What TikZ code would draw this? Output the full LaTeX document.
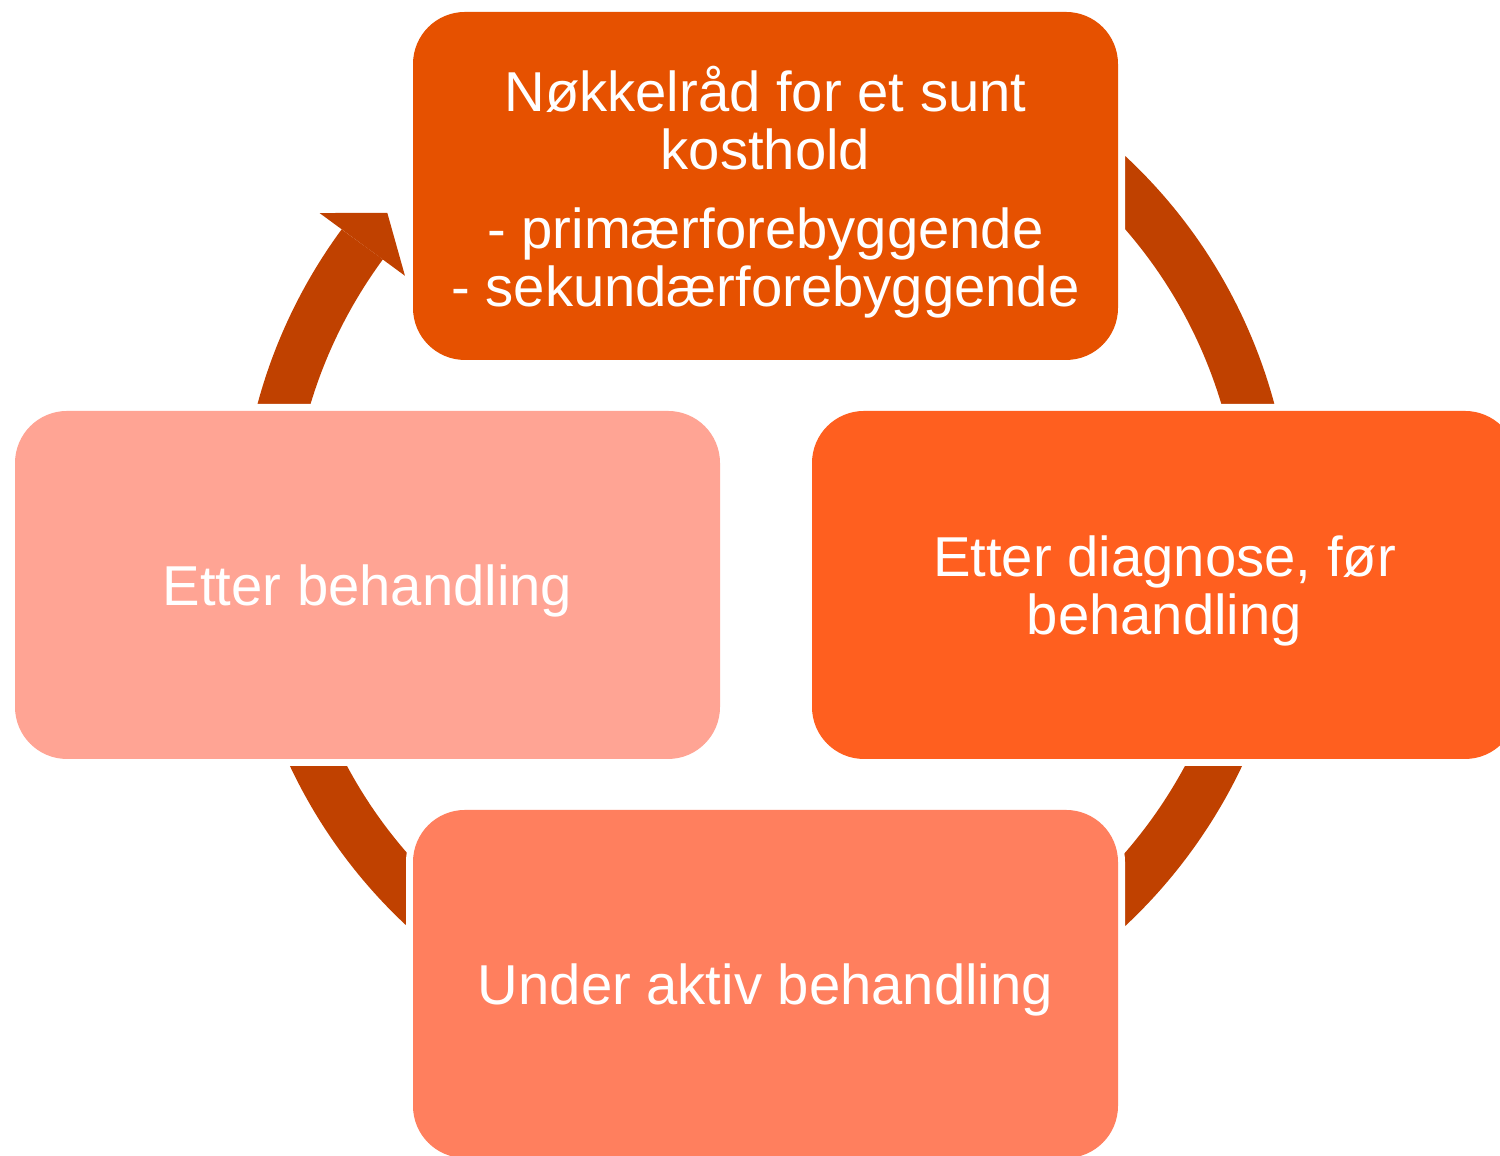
\documentclass[tikz,border=0pt]{standalone}
\usepackage{fontspec}
\setmainfont{Liberation Sans}
\usetikzlibrary{calc}
\definecolor{ringbrown}{RGB}{192,65,0}
\definecolor{deeporange}{RGB}{230,81,0}
\definecolor{brightorange}{RGB}{255,95,31}
\definecolor{salmon}{RGB}{255,127,94}
\definecolor{palesalmon}{RGB}{255,164,148}

\begin{document}
\begin{tikzpicture}[
    phase/.style={rounded corners=0.52cm, minimum width=7.05cm, minimum height=3.48cm,
        text=white, align=center, text depth=0pt, font=\fontsize{16pt}{16.5pt}\selectfont,
        preaction={draw=white, line width=0.14cm}},
]
    \useasboundingbox (0,0) rectangle (15,11.56);
    \coordinate (hub) at (7.66,6.15);

    % Ring behind the boxes
    \draw[ringbrown, line width=0.51cm] ($(hub)+(143.7:5.01)$) arc[start angle=143.7, end angle=490, radius=5.01];

    % Arrow head into the top box
    \fill[ringbrown] ($(hub)+(143.7:4.48)$) -- ($(hub)+(139.1:5.01)$) -- ($(hub)+(143.7:5.54)$) -- cycle;

    % Top
    \node[phase, fill=deeporange] (advice) at (7.655,9.70)
        {Nøkkelråd for et sunt\\kosthold\\[6pt]- primærforebyggende\\- sekundærforebyggende};

    % Right
    \node[phase, fill=brightorange] (diagnosis) at (11.645,5.71) {Etter diagnose, før\\behandling};

    % Bottom
    \node[phase, fill=salmon] (treatment) at (7.655,1.72) {Under aktiv behandling};

    % Left
    \node[phase, fill=palesalmon] (after) at (3.675,5.71) {Etter behandling};
\end{tikzpicture}
\end{document}
